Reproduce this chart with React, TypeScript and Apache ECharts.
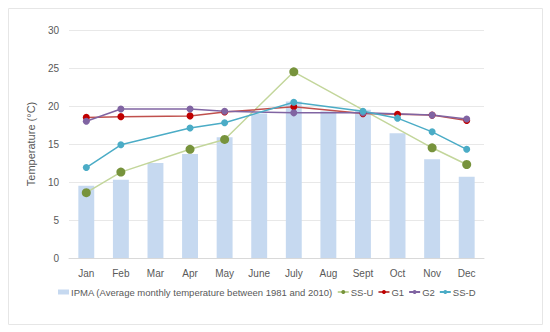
import React, { useEffect, useRef } from "react";
import * as echarts from "echarts";

const months = ["Jan", "Feb", "Mar", "Apr", "May", "June", "July", "Aug", "Sept", "Oct", "Nov", "Dec"];
const ipma = [9.5, 10.3, 12.5, 13.7, 15.9, 19.0, 20.6, 19.3, 19.5, 16.4, 13.0, 10.7];
const ssU = [8.6, 11.3, null, 14.3, 15.6, null, 24.5, null, null, null, 14.5, 12.3];
const g1 = [18.5, 18.6, null, 18.7, 19.2, null, 19.9, null, 19.0, 18.9, 18.8, 18.1];
const g2 = [18.0, 19.6, null, 19.6, 19.3, null, 19.1, null, 19.1, null, 18.8, 18.3];
const ssD = [11.9, 14.9, null, 17.1, 17.8, null, 20.5, null, 19.3, 18.4, 16.6, 14.3];

export default function App() {
  const ref = useRef<HTMLDivElement>(null);
  useEffect(() => {
    const chart = echarts.init(ref.current!, null, { renderer: "svg" });
    const txt = { color: "#595959", fontFamily: "Liberation Sans, Arial, sans-serif", fontSize: 10 };
    const lineSeries = (name: string, data: any[], lineColor: string, markColor: string, size: number) => ({
      name,
      type: "line",
      data,
      connectNulls: true,
      symbol: "circle",
      symbolSize: size,
      lineStyle: { color: lineColor, width: 1.5 },
      itemStyle: { color: markColor },
      z: 3,
    });
    chart.setOption({
      animation: false,
      graphic: [
        {
          type: "rect",
          shape: { x: 8.5, y: 8.5, width: 534, height: 316 },
          style: { fill: "#fff", stroke: "#e6e6e6", lineWidth: 1 },
          z: -10,
        },
      ],
      grid: { left: 69, right: 66, top: 30, bottom: 74 },
      legend: {
        bottom: 30,
        left: 53,
        itemGap: 4,
        itemWidth: 11,
        itemHeight: 5,
        textStyle: { ...txt, fontSize: 9.5, padding: [0, 0, 0, -3] },
        data: [
          { name: "IPMA (Average monthly temperature between 1981 and 2010)", icon: "rect", itemStyle: { color: "#c6d9f0" } },
          "SS-U",
          "G1",
          "G2",
          "SS-D",
        ],
      },
      xAxis: {
        type: "category",
        data: months,
        axisLine: { lineStyle: { color: "#d9d9d9" } },
        axisTick: { show: false },
        axisLabel: { ...txt, margin: 10 },
      },
      yAxis: {
        type: "value",
        min: 0,
        max: 30,
        interval: 5,
        name: "Temperature (°C)",
        nameLocation: "middle",
        nameGap: 26,
        nameTextStyle: { ...txt, fontSize: 11 },
        axisLine: { show: false },
        axisTick: { show: false },
        axisLabel: { ...txt, margin: 10 },
        splitLine: { lineStyle: { color: "#e8e8e8" } },
      },
      series: [
        {
          name: "IPMA (Average monthly temperature between 1981 and 2010)",
          type: "bar",
          data: ipma,
          barWidth: "46%",
          itemStyle: { color: "#c6d9f0" },
          z: 1,
        },
        lineSeries("SS-U", ssU, "#c3d69b", "#77933c", 9),
        lineSeries("G1", g1, "#c0504d", "#c00000", 7),
        lineSeries("G2", g2, "#8064a2", "#8064a2", 7),
        lineSeries("SS-D", ssD, "#4bacc6", "#4bacc6", 7),
      ],
    });
    return () => chart.dispose();
  }, []);
  return <div ref={ref} style={{ position: "absolute", left: 0, top: 0, width: 550, height: 332 }} />;
}
